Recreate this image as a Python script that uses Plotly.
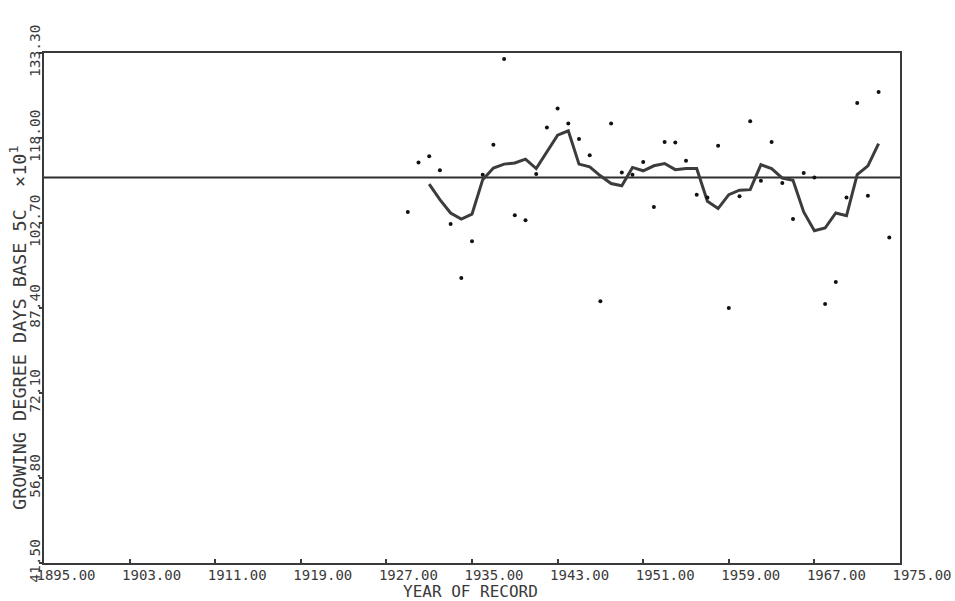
import plotly.graph_objects as go

# Annual growing degree days (base 5C, x10^1) by year of record
YEARS = list(range(1929, 1975))
GDD = [
    104.7, 113.6, 114.7, 112.2, 102.5, 92.8, 99.4, 111.4, 116.8, 132.2,
    104.1, 103.2, 111.5, 119.9, 123.3, 120.6, 117.8, 114.9, 88.6, 120.6,
    111.8, 111.4, 113.7, 105.6, 117.3, 117.2, 113.9, 107.8, 107.3, 116.6,
    87.4, 107.5, 121.0, 110.3, 117.3, 109.9, 103.4, 111.7, 110.9, 88.1,
    92.1, 107.3, 124.3, 107.6, 126.3, 100.1,
]

# Five-year running mean
RM_YEARS = list(range(1931, 1974))
RUNNING_MEAN = [
    109.7, 106.9, 104.5, 103.4, 104.3, 110.5, 112.6, 113.3, 113.5, 114.2,
    112.5, 115.5, 118.5, 119.3, 113.3, 112.8, 111.2, 109.8, 109.4, 112.7,
    112.1, 113.0, 113.4, 112.3, 112.5, 112.5, 106.6, 105.3, 107.8, 108.6,
    108.7, 113.2, 112.5, 110.8, 110.4, 104.7, 101.3, 101.8, 104.5, 104.0,
    111.4, 113.0, 117.0,
]

# Long-term mean of the record
MEAN_GDD = 110.9

YEAR_TICKS = [1895, 1903, 1911, 1919, 1927, 1935, 1943, 1951, 1959, 1967, 1975]
GDD_TICKS = [41.5, 56.8, 72.1, 87.4, 102.7, 118.0, 133.3]

INK = "#3a3a3a"
FONT = "DejaVu Sans Mono"

W, H = 955, 601
ML, MR, MT, MB = 44, 55, 53, 38
PLOT_W = W - ML - MR
PLOT_H = H - MT - MB


def px_x(px):
    """Horizontal page pixel -> paper fraction."""
    return (px - ML) / PLOT_W


def px_y(py):
    """Vertical page pixel (from top) -> paper fraction."""
    return (H - MB - py) / PLOT_H


fig = go.Figure()

fig.add_trace(go.Scatter(
    x=[YEAR_TICKS[0], YEAR_TICKS[-1]], y=[MEAN_GDD, MEAN_GDD],
    mode="lines", line=dict(color="#2e2e2e", width=2),
    hoverinfo="skip", showlegend=False,
))

fig.add_trace(go.Scatter(
    x=RM_YEARS, y=RUNNING_MEAN, mode="lines",
    line=dict(color="#3c3c3c", width=3),
    showlegend=False,
))

fig.add_trace(go.Scatter(
    x=YEARS, y=GDD, mode="markers",
    marker=dict(color="#111111", size=4),
    showlegend=False,
))

fig.update_layout(
    width=W, height=H,
    margin=dict(l=ML, r=MR, t=MT, b=MB),
    paper_bgcolor="white", plot_bgcolor="white",
    font=dict(family=FONT, color=INK, size=15),
    xaxis=dict(
        range=[YEAR_TICKS[0], YEAR_TICKS[-1]],
        tickmode="array", tickvals=YEAR_TICKS,
        ticktext=[f"{v:.2f}" for v in YEAR_TICKS],
        ticks="inside", ticklen=4, tickwidth=2, tickcolor=INK,
        ticklabelshift=22, ticklabelstandoff=-2,
        showline=True, linecolor=INK, linewidth=2, mirror=True,
        showgrid=False, zeroline=False, automargin=False,
        tickfont=dict(size=14, color=INK, family=FONT),
    ),
    yaxis=dict(
        range=[GDD_TICKS[0], GDD_TICKS[-1]],
        tickmode="array", tickvals=GDD_TICKS,
        ticktext=[f"{v:.2f}" for v in GDD_TICKS],
        tickangle=-90,
        ticks="outside", ticklen=3, tickwidth=2, tickcolor=INK,
        ticklabelstandoff=-7,
        showline=True, linecolor=INK, linewidth=2, mirror=True,
        showgrid=False, zeroline=False, automargin=False,
        tickfont=dict(size=14.5, color=INK, family=FONT),
    ),
    annotations=[
        dict(
            text="YEAR OF RECORD", x=px_x(470), y=px_y(591.5),
            xref="paper", yref="paper", xanchor="center", yanchor="middle",
            showarrow=False, font=dict(size=16, color=INK, family=FONT),
        ),
        dict(
            text="GROWING DEGREE DAYS BASE 5C  ×10<sup>1</sup>",
            x=px_x(18), y=px_y(328), xref="paper", yref="paper",
            xanchor="center", yanchor="middle",
            showarrow=False, textangle=-90,
            font=dict(size=18.5, color=INK, family=FONT),
        ),
    ],
)

fig.write_html("out.html")
